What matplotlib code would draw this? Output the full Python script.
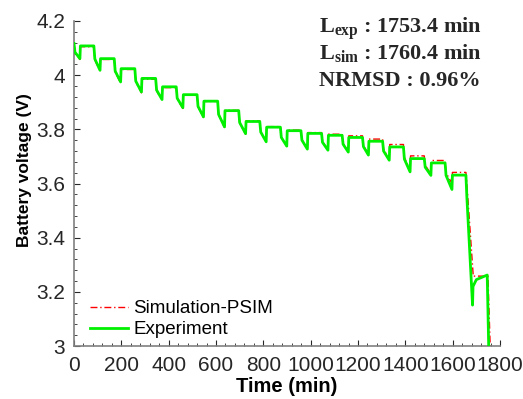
import matplotlib
matplotlib.use("Agg")
import matplotlib.pyplot as plt
from matplotlib.ticker import MultipleLocator, FixedLocator

# discharge start / rest start times (min)
dis_start = [0, 84, 170, 257, 345, 432, 520, 607, 696, 785, 872, 959, 1046, 1133, 1219, 1304, 1392, 1480, 1568, 1656]
rest_start = [25, 110, 197, 285, 372, 460, 547, 636, 725, 812, 899, 986, 1073, 1159, 1244, 1332, 1420, 1508, 1597, 1684]

# experiment (V)
exp_start_v = 4.117
exp_plateau = [4.108, 4.061, 4.024, 3.988, 3.957, 3.928, 3.904, 3.869, 3.829, 3.808,
               3.795, 3.785, 3.778, 3.770, 3.756, 3.735, 3.692, 3.676, 3.631, 3.220]
exp_knee = [4.085, 4.060, 4.015, 3.978, 3.945, 3.915, 3.885, 3.855, 3.825, 3.790,
            3.770, 3.760, 3.752, 3.745, 3.736, 3.720, 3.690, 3.660, 3.630, 3.550]
exp_dip = [4.061, 4.018, 3.975, 3.938, 3.910, 3.880, 3.846, 3.809, 3.784, 3.754,
           3.738, 3.727, 3.723, 3.716, 3.705, 3.686, 3.643, 3.630, 3.578, 3.151]
exp_tail_t = [1700, 1746, 1753.4]
exp_tail_v = [3.245, 3.262, 2.95]

# simulation (V)
sim_start_v = 4.115
sim_plateau = [4.105, 4.058, 4.021, 3.985, 3.954, 3.926, 3.903, 3.870, 3.831, 3.810,
               3.797, 3.788, 3.782, 3.776, 3.764, 3.744, 3.702, 3.685, 3.641, 3.258]
sim_knee = [4.083, 4.057, 4.012, 3.975, 3.942, 3.912, 3.883, 3.853, 3.823, 3.790,
            3.771, 3.762, 3.755, 3.748, 3.740, 3.726, 3.696, 3.668, 3.640, 3.600]
sim_dip = [4.058, 4.014, 3.971, 3.935, 3.907, 3.877, 3.844, 3.807, 3.782, 3.753,
           3.738, 3.728, 3.724, 3.718, 3.708, 3.690, 3.650, 3.635, 3.600, 3.258]
sim_tail_t = [1749, 1760.4]
sim_tail_v = [3.258, 2.95]

texts = [r"L$_{\rm exp}$ : 1753.4 min", r"L$_{\rm sim}$ : 1760.4 min", "NRMSD : 0.96%"]
y_ticks = [3.0, 3.2, 3.4, 3.6, 3.8, 4.0, 4.2]
y_tick_labels = ["3", "3.2", "3.4", "3.6", "3.8", "4", "4.2"]


def build(start_v, plateau, knee, dip, tail_t, tail_v):
    t, v = [], []
    for i in range(len(dis_start)):
        t.append(dis_start[i])
        v.append(start_v if i == 0 else plateau[i - 1])
        t.append(dis_start[i] + 4)
        v.append(knee[i])
        t.append(rest_start[i])
        v.append(dip[i])
        t.append(rest_start[i] + 2)
        v.append(plateau[i])
    return t + tail_t, v + tail_v


exp_t, exp_v = build(exp_start_v, exp_plateau, exp_knee, exp_dip, exp_tail_t, exp_tail_v)
sim_t, sim_v = build(sim_start_v, sim_plateau, sim_knee, sim_dip, sim_tail_t, sim_tail_v)
sim_t[-4] = 1687  # sim reaches the last plateau a bit later

plt.rcParams["font.family"] = ["Liberation Sans", "DejaVu Sans"]
plt.rcParams["mathtext.fontset"] = "custom"
plt.rcParams["mathtext.rm"] = "Liberation Serif:bold"
plt.rcParams["mathtext.bf"] = "Liberation Serif:bold"
plt.rcParams["mathtext.it"] = "Liberation Serif:bold:italic"

fig = plt.figure(figsize=(5.23, 3.99), dpi=100)
ax = fig.add_axes([74 / 523, 53 / 399, 426 / 523, 325 / 399])

ax.plot(sim_t, sim_v, color="red", lw=1.0, ls=(0, (5, 2, 1, 2)), label="Simulation-PSIM", zorder=2)
ax.plot(exp_t, exp_v, color="#00f000", lw=2.0, label="Experiment", zorder=3)

ax.set_xlim(0, 1800)
ax.set_ylim(3, 4.2)
ax.xaxis.set_major_locator(MultipleLocator(200))
ax.xaxis.set_minor_locator(MultipleLocator(40))
ax.yaxis.set_major_locator(FixedLocator(y_ticks))
ax.set_yticklabels(y_tick_labels)
ax.yaxis.set_minor_locator(MultipleLocator(0.04))
ax.tick_params(which="both", direction="in", labelsize=15, colors="0.15")
ax.tick_params(axis="x", pad=7)
ax.tick_params(axis="y", pad=6.5)
ax.tick_params(which="major", length=4)
ax.tick_params(which="minor", length=2)
for s in ["top", "right"]:
    ax.spines[s].set_visible(False)
for s in ["left", "bottom"]:
    ax.spines[s].set_color("0.5")
    ax.spines[s].set_linewidth(1.2)

ax.set_xlabel("Time (min)", fontsize=14.5, fontweight="bold", labelpad=2)
ax.set_ylabel("Battery voltage (V)", fontsize=12.5, fontweight="bold")
ax.yaxis.set_label_coords(-0.099, 0.54)

leg = ax.legend(loc="lower left", bbox_to_anchor=(0.02, 0.0), frameon=False, fontsize=13.5,
                handlelength=2.0, handletextpad=0.3, labelspacing=0.22, borderaxespad=0)

for i, s in enumerate(texts):
    fig.text(319 / 523, 1 - (33 + 26.5 * i) / 399, s, fontsize=16, fontweight="bold",
             family="Liberation Serif", color="0.15", va="baseline")

fig.savefig("out.png", dpi=100)
